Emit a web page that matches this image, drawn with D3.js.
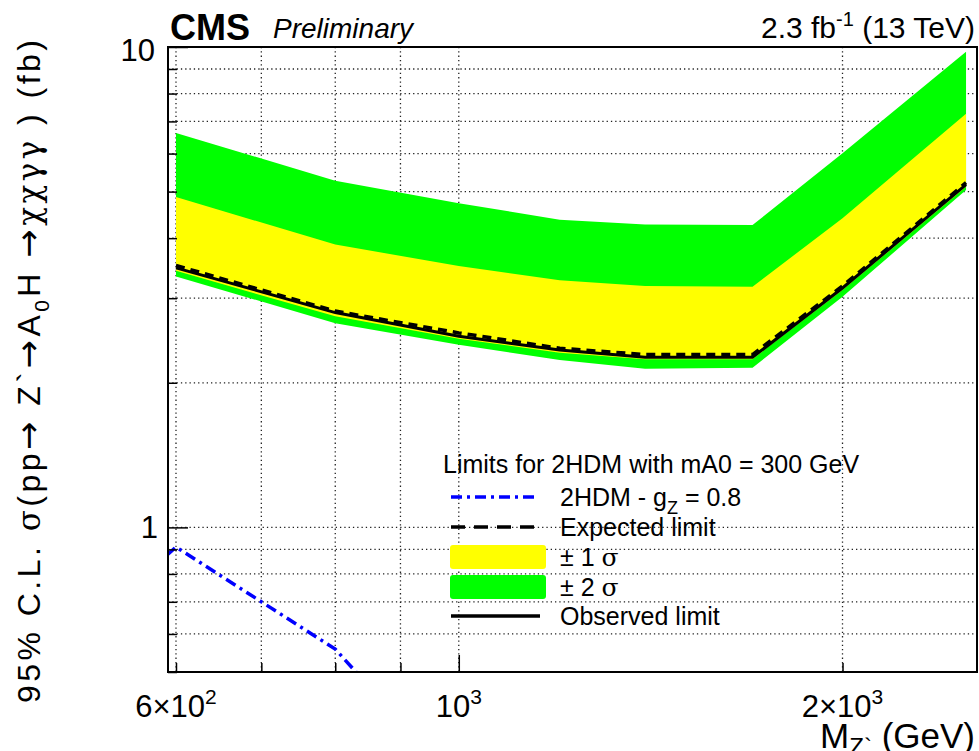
<!DOCTYPE html>
<html>
<head>
<meta charset="utf-8">
<script src="https://cdn.jsdelivr.net/npm/d3@7"></script>
<style>
  html, body { margin: 0; padding: 0; background: #fff; }
  svg { display: block; font-family: "Liberation Sans", Arial, Helvetica, sans-serif; }
</style>
</head>
<body>
<svg id="chart" width="979" height="751"></svg>
<script>
// ---------------- data ----------------
const massPoints = [600, 800, 1000, 1200, 1400, 1700, 2000, 2500];
const expectedLimit = [3.51, 2.82, 2.54, 2.36, 2.29, 2.29, 3.18, 5.22];
const observedLimit = [3.47, 2.80, 2.50, 2.34, 2.26, 2.26, 3.15, 5.17];
const plus2Sigma = [6.62, 5.27, 4.73, 4.37, 4.27, 4.26, 6.01, 9.78];
const plus1Sigma = [4.87, 3.88, 3.50, 3.27, 3.18, 3.17, 4.40, 7.26];
const minus1Sigma = [3.42, 2.75, 2.47, 2.31, 2.24, 2.24, 3.12, 5.12];
const minus2Sigma = [3.33, 2.66, 2.40, 2.23, 2.14, 2.15, 3.02, 5.04];

const theoryMass = [590, 600, 800, 1000];
const theoryXsec = [0.875, 0.91, 0.558, 0.29];

const xTicks = [600, 700, 800, 900, 1000, 2000];
const xMajorTicks = [1000];
const yTicks = [0.5, 0.6, 0.7, 0.8, 0.9, 1, 2, 3, 4, 5, 6, 7, 8, 9, 10];
const yMajorTicks = [1, 10];
const yGrid = [0.6, 0.7, 0.8, 0.9, 1, 2, 3, 4, 5, 6, 7, 8, 9];
const xLabels = [{v: 600, base: "6×10", sup: "2"}, {v: 1000, base: "10", sup: "3"}, {v: 2000, base: "2×10", sup: "3"}];
const yLabels = [{v: 10, t: "10"}, {v: 1, t: "1"}];

const legendHeader = "Limits for 2HDM with mA0 = 300 GeV";
const legendEntries = ["theory", "expected", "band1", "band2", "observed"];

// y-axis title pieces (sequential)
const yTitlePieces = [
  {t: "95% C.L. "},
  {t: "σ", greek: true},
  {t: "(pp"},
  {t: "→", arrow: true},
  {t: " Z`"},
  {t: "→", arrow: true},
  {t: "A"},
  {t: "0", sub: true},
  {t: "H ", unsub: true},
  {t: "→", arrow: true},
  {t: "χχγγ", greek: true},
  {t: " ) (fb)"}
];

// ---------------- layout ----------------
const L = 168, R = 977, T = 47, B = 672;
const svg = d3.select("#chart");
const x = d3.scaleLog().domain([591.4, 2550]).range([L, R]);
const y = d3.scaleLog().domain([0.5, 10]).range([B, T]);

const GREEN = "#00ff00", YELLOW = "#ffff00", BLUE = "#0000ff";

svg.append("defs").append("clipPath").attr("id", "plotclip")
  .append("rect").attr("x", L).attr("y", T).attr("width", R - L).attr("height", B - T);

// grid
const grid = svg.append("g").attr("stroke", "#222").attr("stroke-width", 1.3)
  .attr("stroke-dasharray", "1.3,3");
grid.selectAll(".vg").data(xTicks).enter().append("line")
  .attr("x1", d => x(d)).attr("x2", d => x(d)).attr("y1", T).attr("y2", B);
grid.selectAll(".hg").data(yGrid).enter().append("line")
  .attr("x1", L).attr("x2", R).attr("y1", d => y(d)).attr("y2", d => y(d));

const pts = massPoints.map((m, i) => ({
  m, exp: expectedLimit[i], obs: observedLimit[i],
  p2: plus2Sigma[i], p1: plus1Sigma[i], m1: minus1Sigma[i], m2: minus2Sigma[i]
}));

const plot = svg.append("g").attr("clip-path", "url(#plotclip)");
plot.append("path").datum(pts)
  .attr("fill", GREEN)
  .attr("d", d3.area().x(d => x(d.m)).y0(d => y(d.m2)).y1(d => y(d.p2)));
plot.append("path").datum(pts)
  .attr("fill", YELLOW)
  .attr("d", d3.area().x(d => x(d.m)).y0(d => y(d.m1)).y1(d => y(d.p1)));

const lineExp = d3.line().x(d => x(d.m)).y(d => y(d.exp));
const lineObs = d3.line().x(d => x(d.m)).y(d => y(d.obs));
plot.append("path").datum(pts).attr("fill", "none").attr("stroke", "#000")
  .attr("stroke-width", 3.5).attr("stroke-dasharray", "9,6").attr("d", lineExp);
plot.append("path").datum(pts).attr("fill", "none").attr("stroke", "#000")
  .attr("stroke-width", 3).attr("d", lineObs);

const th = theoryMass.map((m, i) => ({m, v: theoryXsec[i]}));
plot.append("path").datum(th).attr("fill", "none").attr("stroke", BLUE)
  .attr("stroke-width", 3.5).attr("stroke-dasharray", "11,5,3,5")
  .attr("d", d3.line().x(d => x(d.m)).y(d => y(d.v)));

// axes (ticks only; labels drawn separately)
const xAxis = d3.axisBottom(x).tickValues(xTicks).tickFormat("")
  .tickSizeInner(-9).tickSizeOuter(0);
const gx = svg.append("g").attr("transform", `translate(0,${B})`).call(xAxis);
gx.selectAll(".tick line").attr("y2", d => xMajorTicks.includes(d) ? -17 : -9)
  .attr("stroke", "#000").attr("stroke-width", 1.5);
gx.select(".domain").remove();

const yAxis = d3.axisLeft(y).tickValues(yTicks).tickFormat("")
  .tickSizeInner(-9).tickSizeOuter(0);
const gy = svg.append("g").attr("transform", `translate(${L},0)`).call(yAxis);
gy.selectAll(".tick line").attr("x2", d => yMajorTicks.includes(d) ? 20 : 9)
  .attr("stroke", "#000").attr("stroke-width", 1.5);
gy.select(".domain").remove();

// frame
svg.append("rect").attr("x", L).attr("y", T).attr("width", R - L).attr("height", B - T)
  .attr("fill", "none").attr("stroke", "#000").attr("stroke-width", 2);

// x labels
xLabels.forEach(l => {
  const t = svg.append("text").attr("x", x(l.v)).attr("y", 717)
    .attr("text-anchor", "middle").attr("font-size", 31).attr("fill", "#000");
  t.append("tspan").text(l.base);
  t.append("tspan").attr("dy", -13).attr("font-size", 21).text(l.sup);
});
// y labels
yLabels.forEach(l => {
  svg.append("text").attr("x", l.v === 10 ? 155 : 158).attr("y", y(l.v) + (l.v === 10 ? 14 : 11))
    .attr("text-anchor", "end").attr("font-size", 31).attr("fill", "#000").text(l.t);
});

// axis titles
const xt = svg.append("text").attr("x", 975).attr("y", 748).attr("text-anchor", "end")
  .attr("font-size", 35).attr("fill", "#000");
xt.append("tspan").text("M");
xt.append("tspan").attr("dy", 7).attr("font-size", 24).text("Z`");
xt.append("tspan").attr("dy", -7).text(" (GeV)");

const yt = svg.append("text").attr("transform", "translate(40,703) rotate(-90)")
  .attr("x", 0).attr("y", 0)
  .attr("font-size", 32).attr("fill", "#000")
  .attr("textLength", 663).attr("lengthAdjust", "spacing");
yTitlePieces.forEach(p => {
  const s = yt.append("tspan").text(p.t);
  if (p.greek) s.attr("font-family", "'DejaVu Serif', serif").attr("font-size", 31);
  if (p.arrow) s.attr("font-family", "'DejaVu Sans', sans-serif").attr("font-size", 34);
  if (p.sub) s.attr("font-size", 21).attr("dy", 9);
  if (p.unsub) s.attr("dy", -9);
});

// header texts
svg.append("text").attr("x", 170).attr("y", 40).attr("font-size", 36).attr("font-weight", "bold")
  .attr("fill", "#000").text("CMS");
svg.append("text").attr("x", 273).attr("y", 38).attr("font-size", 28).attr("font-style", "italic")
  .attr("fill", "#000").text("Preliminary");
const lumi = svg.append("text").attr("x", 975).attr("y", 38).attr("text-anchor", "end")
  .attr("font-size", 30).attr("fill", "#000");
lumi.append("tspan").text("2.3 fb");
lumi.append("tspan").attr("dy", -12).attr("font-size", 20).text("-1");
lumi.append("tspan").attr("dy", 12).text(" (13 TeV)");

// legend
const FS = 25;
const lg = svg.append("g");
lg.append("text").attr("x", 443).attr("y", 473).attr("font-size", FS).attr("fill", "#000").text(legendHeader);
const rowY = [497, 527, 557, 587, 616];
const sx0 = 451, sx1 = 540, tx = 560;
legendEntries.forEach((e, i) => {
  const cy = rowY[i];
  const ty = cy + 9;
  if (e === "theory") {
    lg.append("line").attr("x1", sx0).attr("x2", sx1 - 4).attr("y1", cy).attr("y2", cy)
      .attr("stroke", BLUE).attr("stroke-width", 3.5).attr("stroke-dasharray", "11,5,3,5");
    const t = lg.append("text").attr("x", tx).attr("y", ty).attr("font-size", FS).attr("fill", "#000");
    t.append("tspan").text("2HDM - g");
    t.append("tspan").attr("dy", 8).attr("font-size", 18).text("Z");
    t.append("tspan").attr("dy", -8).text(" = 0.8");
  } else if (e === "expected") {
    lg.append("line").attr("x1", sx0).attr("x2", sx1 - 4).attr("y1", cy).attr("y2", cy)
      .attr("stroke", "#000").attr("stroke-width", 3.5).attr("stroke-dasharray", "14,9");
    lg.append("text").attr("x", tx).attr("y", ty).attr("font-size", FS).attr("fill", "#000").text("Expected limit");
  } else if (e === "band1" || e === "band2") {
    lg.append("rect").attr("x", sx0 - 1).attr("y", cy - 12).attr("width", 96).attr("height", 24)
      .attr("rx", 3).attr("fill", e === "band1" ? YELLOW : GREEN);
    const t = lg.append("text").attr("x", tx).attr("y", ty).attr("font-size", FS).attr("fill", "#000");
    t.append("tspan").text(e === "band1" ? "± 1 " : "± 2 ");
    t.append("tspan").attr("font-family", "'DejaVu Serif', serif").text("σ");
  } else {
    lg.append("line").attr("x1", sx0).attr("x2", sx1).attr("y1", cy).attr("y2", cy)
      .attr("stroke", "#000").attr("stroke-width", 3.5);
    lg.append("text").attr("x", tx).attr("y", ty).attr("font-size", FS).attr("fill", "#000").text("Observed limit");
  }
});
</script>
</body>
</html>
